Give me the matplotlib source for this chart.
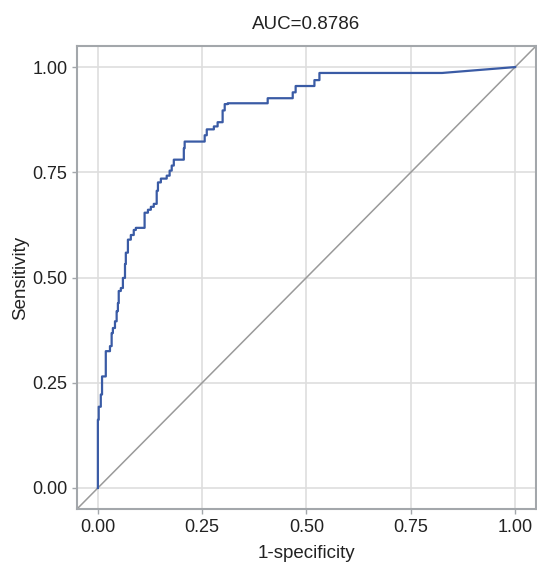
import matplotlib
matplotlib.use("Agg")
import matplotlib.pyplot as plt

# ROC points (fpr = 1-specificity, tpr = sensitivity)
fpr = [0.000, 0.000, 0.002, 0.002, 0.007, 0.007, 0.010, 0.010, 0.019, 0.019,
       0.029, 0.029, 0.033, 0.033, 0.036, 0.036, 0.041, 0.041, 0.045, 0.045,
       0.048, 0.048, 0.050, 0.050, 0.055, 0.055, 0.060, 0.060, 0.065, 0.065,
       0.067, 0.067, 0.072, 0.072, 0.079, 0.079, 0.086, 0.086, 0.091, 0.091,
       0.112, 0.112, 0.120, 0.120, 0.127, 0.127, 0.134, 0.134, 0.141, 0.141,
       0.144, 0.144, 0.151, 0.151, 0.165, 0.165, 0.172, 0.172, 0.177, 0.177,
       0.182, 0.182, 0.206, 0.206, 0.208, 0.208, 0.256, 0.256, 0.261, 0.261,
       0.278, 0.278, 0.287, 0.287, 0.299, 0.299, 0.304, 0.304, 0.311, 0.311,
       0.407, 0.407, 0.467, 0.467, 0.474, 0.474, 0.519, 0.519, 0.531, 0.531,
       0.825, 1.000]
tpr = [0.000, 0.162, 0.162, 0.193, 0.193, 0.222, 0.222, 0.265, 0.265, 0.325,
       0.325, 0.337, 0.337, 0.368, 0.368, 0.380, 0.380, 0.396, 0.396, 0.420,
       0.420, 0.439, 0.439, 0.468, 0.468, 0.475, 0.475, 0.499, 0.499, 0.532,
       0.532, 0.559, 0.559, 0.590, 0.590, 0.601, 0.601, 0.613, 0.613, 0.618,
       0.618, 0.654, 0.654, 0.661, 0.661, 0.668, 0.668, 0.675, 0.675, 0.706,
       0.706, 0.726, 0.726, 0.735, 0.735, 0.742, 0.742, 0.754, 0.754, 0.766,
       0.766, 0.780, 0.780, 0.807, 0.807, 0.823, 0.823, 0.838, 0.838, 0.852,
       0.852, 0.859, 0.859, 0.869, 0.869, 0.897, 0.897, 0.912, 0.912, 0.914,
       0.914, 0.926, 0.926, 0.940, 0.940, 0.955, 0.955, 0.969, 0.969, 0.986,
       0.986, 1.000]
auc_text = "AUC=0.8786"
ticks = [0.00, 0.25, 0.50, 0.75, 1.00]
tick_labels = ["0.00", "0.25", "0.50", "0.75", "1.00"]

plt.rcParams['font.family'] = ['Liberation Sans', 'DejaVu Sans']

fig = plt.figure(figsize=(5.37, 5.62), dpi=100)
ax = fig.add_axes([0.1434, 0.0943, 0.8547, 0.8238])

ax.set_xlim(-0.05, 1.05)
ax.set_ylim(-0.05, 1.05)
ax.set_xticks(ticks)
ax.set_yticks(ticks)
ax.set_xticklabels(tick_labels)
ax.set_yticklabels(tick_labels)
ax.grid(True, color='#dedede', linewidth=1.2)
ax.set_axisbelow(True)

# reference diagonal over the whole panel
ax.plot([-0.05, 1.05], [-0.05, 1.05], color='#9a9a9a', linewidth=1.1)
ax.plot(fpr, tpr, color='#3a5ba5', linewidth=1.6)

for s in ax.spines.values():
    s.set_color('#a3a7ab')
    s.set_linewidth(1.5)
ax.tick_params(colors='#a3a7ab', labelcolor='#222222', labelsize=13,
               length=3.5, width=1, pad=3.5)

ax.set_title(auc_text, fontsize=13.5, color='#222222', pad=12)
ax.set_xlabel("1-specificity", fontsize=13.5, color='#222222', labelpad=7)
ax.set_ylabel("Sensitivity", fontsize=13.5, color='#222222', labelpad=2)

fig.savefig("out.png", dpi=100)
